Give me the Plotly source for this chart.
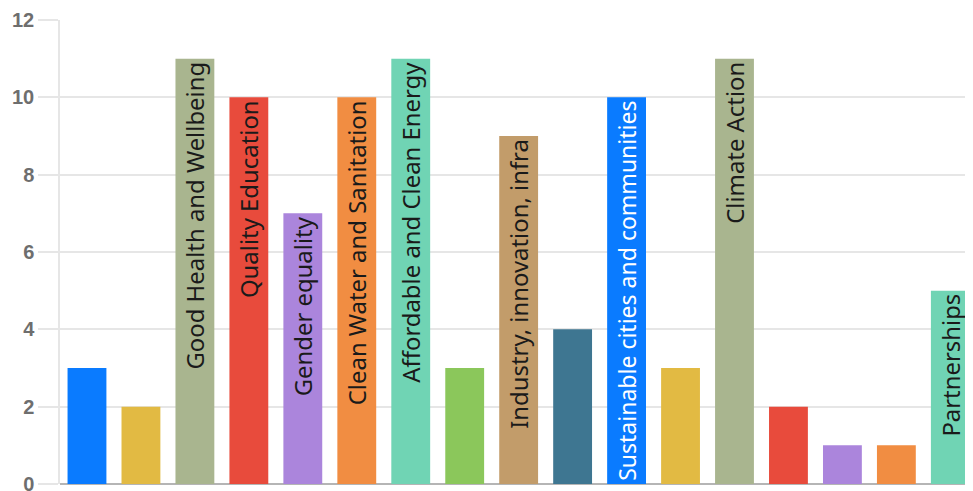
import plotly.graph_objects as go

categories = [
    "No Poverty", "Zero Hunger", "Good Health and Wellbeing", "Quality Education",
    "Gender equality", "Clean Water and Sanitation", "Affordable and Clean Energy",
    "Decent Work", "Industry, innovation, infra", "Reduced Inequalities",
    "Sustainable cities and communities", "Responsible Consumption", "Climate Action",
    "Life Below Water", "Life on Land", "Peace and Justice", "Partnerships",
]
values = [3, 2, 11, 10, 7, 10, 11, 3, 9, 4, 10, 3, 11, 2, 1, 1, 5]
bar_labels = [
    "", "", "Good Health and Wellbeing", "Quality Education", "Gender equality",
    "Clean Water and Sanitation", "Affordable and Clean Energy", "",
    "Industry, innovation, infra", "", "Sustainable cities and communities", "",
    "Climate Action", "", "", "", "Partnerships",
]
colors = [
    "#0a7bff", "#e2ba43", "#a9b58f", "#e84b3c", "#ab85dc", "#f18d42", "#70d4b4",
    "#8bc75b", "#c29c6a", "#3e7691", "#0a7bff", "#e2ba43", "#a9b58f", "#e84b3c",
    "#ab85dc", "#f18d42", "#70d4b4",
]
label_colors = ["#1a1a1a"] * 17
label_colors[10] = "#ffffff"

yticks = [0, 2, 4, 6, 8, 10, 12]

fig = go.Figure(go.Bar(
    x=categories, y=values, marker=dict(color=colors, line=dict(width=0)),
    text=bar_labels, textposition="inside", insidetextanchor="end",
    textangle=-90, textfont=dict(family="Noto Sans", size=24, color=label_colors),
    hoverinfo="skip",
))

fig.update_layout(
    width=965, height=491,
    margin=dict(l=52, r=0, t=12, b=15, autoexpand=False),
    paper_bgcolor="white", plot_bgcolor="white",
    bargap=0.28, showlegend=False,
    xaxis=dict(showticklabels=False, range=[-0.5, 16.42], showgrid=False,
               ticks="", zeroline=False, showline=False),
    yaxis=dict(range=[0, 12], tickvals=yticks, showgrid=True, gridcolor="#e6e6e6",
               gridwidth=1.5, ticks="outside", ticklen=20, tickcolor="#e6e6e6",
               tickwidth=1.5, automargin=False,
               showline=True, linecolor="#e6e6e6", linewidth=1.5,
               zeroline=True, zerolinecolor="#b5b5b5", zerolinewidth=1.5,
               tickfont=dict(family="Liberation Sans", size=20, color="#6e6e6e",
                             weight="bold")),
)

fig.write_html("out.html")
